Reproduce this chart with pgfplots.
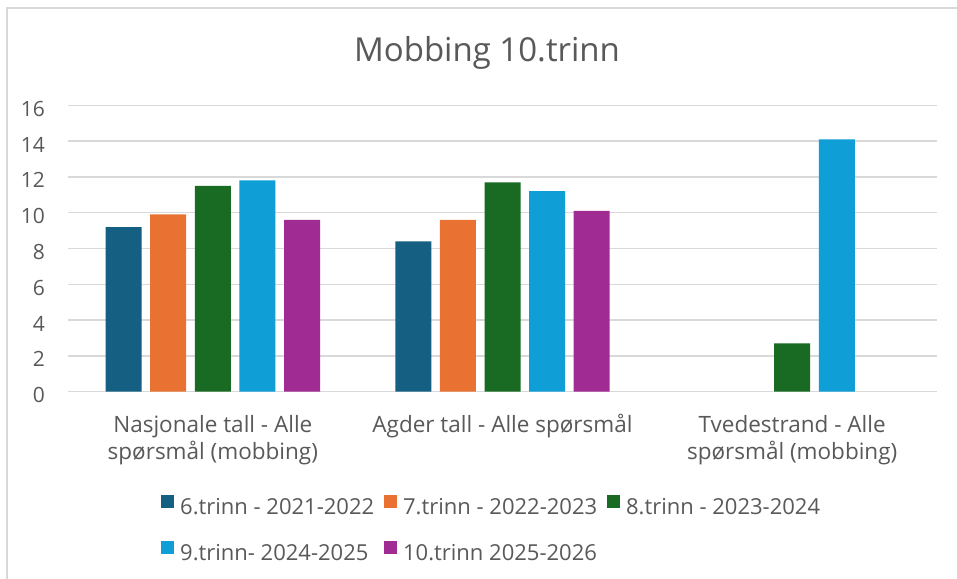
\documentclass[border=0pt]{standalone}
\usepackage{pgfplots}
\pgfplotsset{compat=1.18}
\usepackage{fontspec}
\setmainfont{Open Sans}
\definecolor{cA}{HTML}{156082}
\definecolor{cB}{HTML}{E97132}
\definecolor{cC}{HTML}{196B24}
\definecolor{cD}{HTML}{0F9ED5}
\definecolor{cE}{HTML}{A02B93}
\definecolor{txt}{HTML}{595959}
\definecolor{gridc}{HTML}{D9D9D9}
\begin{document}
\begin{tikzpicture}[x=1bp,y=1bp]
\useasboundingbox (0,0) rectangle (957,579);
\fill[white] (0,0) rectangle (957,579);
\draw[gridc, line width=1.3bp] (7,0) -- (7,571) -- (957,571);
\node[anchor=base, text=txt, font=\fontsize{33bp}{40bp}\selectfont, inner sep=0pt] at (487,517) {Mobbing 10.trinn};
\begin{axis}[
  at={(68bp,187.3bp)}, anchor=south west,
  scale only axis, width=869bp, height=286.4bp,
  ybar=8.6bp, bar width=36bp,
  xmin=-0.5, xmax=2.5, ymin=0, ymax=16,
  ytick={0,2,...,16}, xtick={0,1,2},
  xticklabels={{Nasjonale tall - Alle\\spørsmål (mobbing)},{Agder tall - Alle spørsmål\\\mbox{}},{Tvedestrand - Alle\\spørsmål (mobbing)}},
  axis line style={draw=none},
  major tick length=0pt,
  ymajorgrids, grid style={gridc, line width=1.3bp},
  /pgf/number format/assume math mode=true,
  yticklabel style={anchor=east, inner sep=0pt, xshift=-23bp, yshift=-3.5bp, text=txt, font=\fontsize{21bp}{25bp}\selectfont},
  xticklabel style={anchor=base, inner sep=0pt, yshift=-68bp, align=center, text=txt, font=\fontsize{22.5bp}{27bp}\selectfont},
  legend columns=3,
  legend image code/.code={\fill[#1, draw=none] (0bp,1bp) rectangle (13bp,13.5bp);},
  legend style={at={(0.107,-0.361)}, anchor=north west, draw=none, fill=none, inner sep=0pt,
    font=\fontsize{22bp}{26bp}\selectfont, text=txt, row sep=23bp,
    /tikz/every odd column/.append style={column sep=6bp},
    /tikz/every even column/.append style={column sep=10bp},
    nodes={inner sep=0pt, text height=15bp, text depth=4bp}},
  legend cell align=left,
]
\addplot[fill=cA, draw=none] coordinates {(0,9.2) (1,8.4)};
\addplot[fill=cB, draw=none] coordinates {(0,9.9) (1,9.6)};
\addplot[fill=cC, draw=none] coordinates {(0,11.5) (1,11.7) (2,2.7)};
\addplot[fill=cD, draw=none] coordinates {(0,11.8) (1,11.2) (2,14.1)};
\addplot[fill=cE, draw=none] coordinates {(0,9.6) (1,10.1)};
\legend{6.trinn - 2021-2022, 7.trinn - 2022-2023, 8.trinn - 2023-2024, 9.trinn- 2024-2025, 10.trinn 2025-2026}
\end{axis}
\end{tikzpicture}
\end{document}
